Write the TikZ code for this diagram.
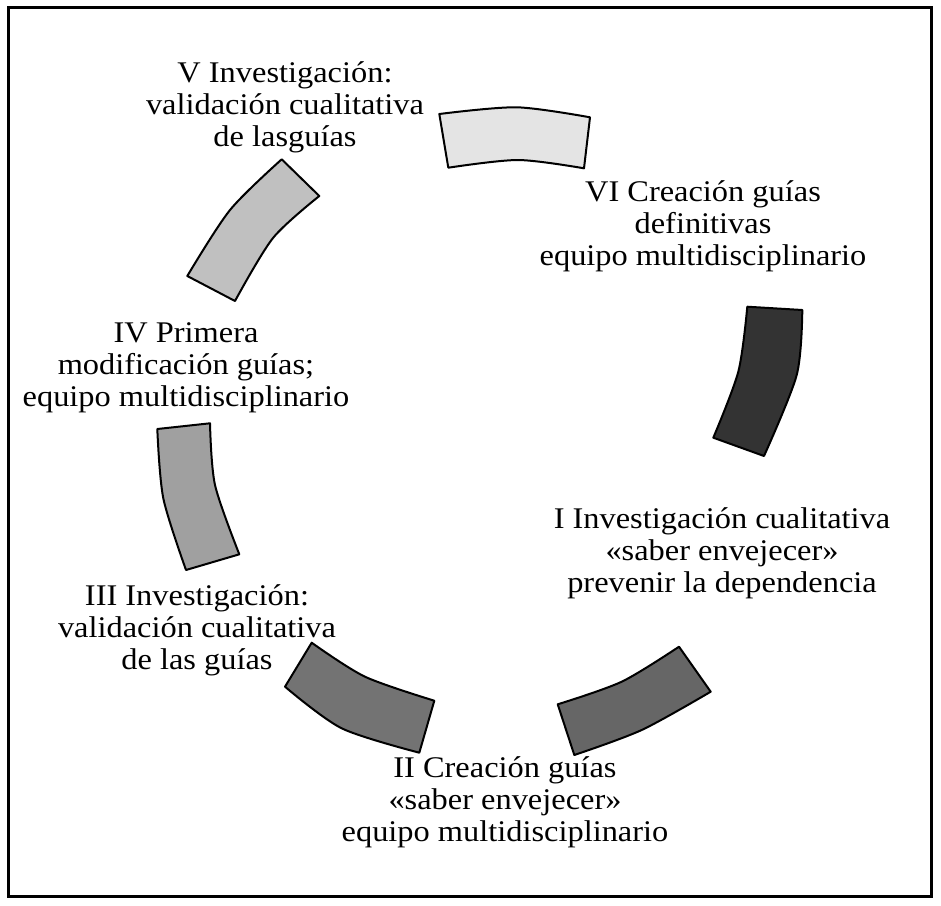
\documentclass[tikz,border=0pt]{standalone}
\usepackage{fontspec}
\setmainfont{Liberation Serif}
\definecolor{segA}{HTML}{E4E4E4}
\definecolor{segB}{HTML}{C0C0C0}
\definecolor{segC}{HTML}{A0A0A0}
\definecolor{segD}{HTML}{333333}
\definecolor{segE}{HTML}{666666}
\definecolor{segF}{HTML}{737373}
\begin{document}
\begin{tikzpicture}[x=1pt,y=-1pt,
  seg/.style={draw=black, line width=2pt, line join=round},
  lbl/.style={align=center, inner sep=0pt, font=\fontsize{30}{32}\selectfont, xscale=1.08, transform shape},
  frame/.style={draw=black, line width=3pt}]
\useasboundingbox (0,0) rectangle (941,905);
\draw[frame] (8.5,7.5) rectangle (931.5,896.5);

% top segment
\draw[seg, fill=segA] plot[smooth] coordinates {(439.3,114) (516.7,107.3) (590,117.3)}
  -- plot[smooth] coordinates {(584,168.3) (518,160) (448.3,167.7)} -- cycle;
% upper left
\draw[seg, fill=segB] plot[smooth] coordinates {(187.3,276) (230,210) (281.7,159.3)}
  -- plot[smooth] coordinates {(319.3,196) (273,238) (235,301)} -- cycle;
% left
\draw[seg, fill=segC] plot[smooth] coordinates {(157.3,429) (163.3,498.3) (186,570)}
  -- plot[smooth] coordinates {(239.3,554.3) (215,485) (210,423.3)} -- cycle;
% right dark
\draw[seg, fill=segD] (747.3,306.7) -- plot[smooth] coordinates {(802.3,310) (796.7,375) (764,456)}
  -- plot[smooth] coordinates {(713.3,437.7) (738.3,371.7) (747.3,306.7)} -- cycle;
% lower right
\draw[seg, fill=segE] plot[smooth] coordinates {(557.7,704.3) (621.7,681.7) (679,646.7)}
  -- plot[smooth] coordinates {(710.7,691.7) (641.7,730) (574.3,755)} -- cycle;
% bottom left
\draw[seg, fill=segF] plot[smooth] coordinates {(311.7,642.7) (365,676.7) (434.3,700.7)}
  -- plot[smooth] coordinates {(419.3,752.7) (341.7,728.3) (285,686.7)} -- cycle;

\node[lbl] (v) at (285,108) {\strut V Investigación:\\\strut validación cualitativa\\\strut de lasguías};
\node[lbl] (vi) at (703,227) {\strut VI Creación guías\\\strut definitivas\\\strut equipo multidisciplinario};
\node[lbl] (iv) at (186,368) {\strut IV Primera\\\strut modificación guías;\\\strut equipo multidisciplinario};
\node[lbl] (iii) at (197,631) {\strut III Investigación:\\\strut validación cualitativa\\\strut de las guías};
\node[lbl] (i) at (722,554) {\strut I Investigación cualitativa\\\strut «saber envejecer»\\\strut prevenir la dependencia};
\node[lbl] (ii) at (505,803) {\strut II Creación guías\\\strut «saber envejecer»\\\strut equipo multidisciplinario};
\end{tikzpicture}
\end{document}
